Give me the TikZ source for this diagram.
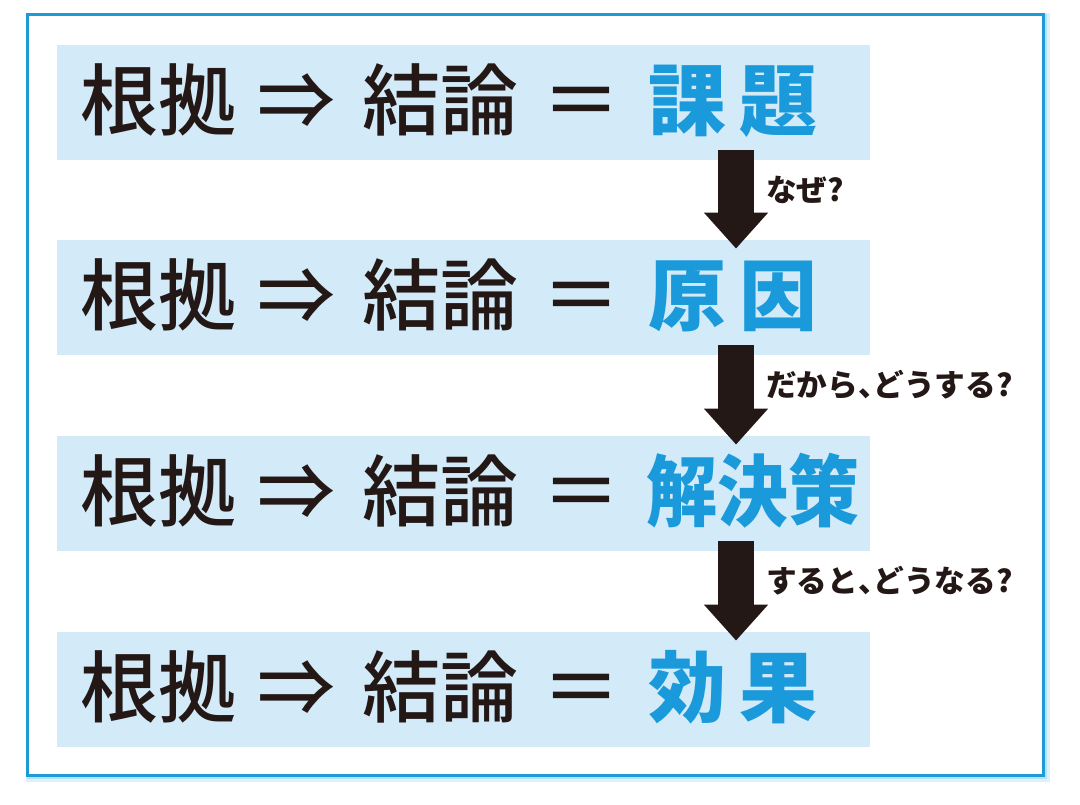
\documentclass[tikz,border=0pt]{standalone}
\usepackage{fontspec}
\setmainfont{Noto Sans CJK JP}
\newfontfamily\jpmed{Noto Sans CJK JP Medium}
\newfontfamily\jpheavy{Noto Sans CJK JP Black}
\usetikzlibrary{arrows.meta}
\definecolor{frameblue}{HTML}{1E9BD7}
\definecolor{glowblue}{HTML}{9FD6F2}
\definecolor{bandblue}{HTML}{D3EAF8}
\definecolor{keyblue}{HTML}{1A9ADA}
\definecolor{inkblack}{HTML}{231815}
\newcommand{\tenten}{\makebox[0.5em][l]{、}}

\begin{document}
\begin{tikzpicture}[x=0.75pt,y=-0.75pt,semithick]
\tikzstyle{band}=[fill=bandblue,minimum width=609.75pt,minimum height=86.25pt,inner sep=0pt]
\tikzstyle{word}=[inkblack,inner sep=0pt,text height=46.8pt,text depth=5.85pt,font=\jpmed\fontsize{58.5}{60}\selectfont]
\tikzstyle{key}=[keyblue,inner sep=0pt,text height=46.8pt,text depth=5.85pt,font=\jpheavy\fontsize{58.5}{60}\selectfont]
\tikzstyle{ask}=[inkblack,anchor=west,inner sep=0pt,outer sep=0pt,xshift=22.5pt,font=\jpheavy\fontsize{23}{25}\selectfont]
\tikzstyle{fat}=[inkblack,line width=27pt,-{Triangle[length=27pt,width=46.5pt]}]
\useasboundingbox (0,0) rectangle (1080,805);
% frame with soft glow
\draw[glowblue,line width=6pt,opacity=0.35] (29.5,17.5) rectangle (1045.5,777.5);
\draw[glowblue,line width=3pt,opacity=0.6] (28.5,16.5) rectangle (1044.5,776.5);
\node[draw=frameblue,line width=2.25pt,fill=white,minimum width=762pt,minimum height=570pt] (frame) at (535,395) {};

\node[band] (r1) at (463.5,102.5) {};
\node[band] (r2) at (463.5,297.5) {};
\node[band] (r3) at (463.5,493.5) {};
\node[band] (r4) at (463.5,689.5) {};

\node[word] (a1) at (158,102.5) {根拠};
\node[word] (b1) at (296,102.5) {⇒};
\node[word] (c1) at (440,102.5) {結論};
\node[word] (d1) at (581,102.5) {＝};
\node[key] (e1) at (733,102.5) {課\hspace{9.75pt}題};

\node[word] (a2) at (158,297.5) {根拠};
\node[word] (b2) at (296,297.5) {⇒};
\node[word] (c2) at (440,297.5) {結論};
\node[word] (d2) at (581,297.5) {＝};
\node[key] (e2) at (733,297.5) {原\hspace{9.75pt}因};

\node[word] (a3) at (158,493.5) {根拠};
\node[word] (b3) at (296,493.5) {⇒};
\node[word] (c3) at (440,493.5) {結論};
\node[word] (d3) at (581,493.5) {＝};
\node[key] (e3) at (753,493.5) {\scalebox{0.91}[1]{解決策}};

\node[word] (a4) at (158,689.5) {根拠};
\node[word] (b4) at (296,689.5) {⇒};
\node[word] (c4) at (440,689.5) {結論};
\node[word] (d4) at (581,689.5) {＝};
\node[key] (e4) at (733,689.5) {効\hspace{9.75pt}果};

\draw[fat] ([xshift=204.4pt,yshift=7.5pt]r1.south) -- node[ask,pos=0.4] (q1) {なぜ?} ([xshift=204.4pt,yshift=-6.75pt]r2.north);
\draw[fat] ([xshift=204.4pt,yshift=7.5pt]r2.south) -- node[ask,pos=0.4] (q2) {だから\tenten どうする?} ([xshift=204.4pt,yshift=-6.75pt]r3.north);
\draw[fat] ([xshift=204.4pt,yshift=7.5pt]r3.south) -- node[ask,pos=0.4] (q3) {すると\tenten どうなる?} ([xshift=204.4pt,yshift=-6.75pt]r4.north);
\end{tikzpicture}
\end{document}
